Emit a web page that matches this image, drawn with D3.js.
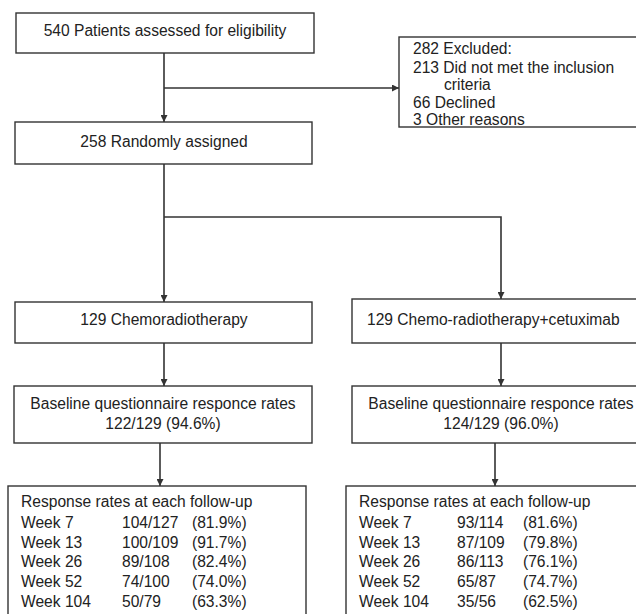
<!DOCTYPE html>
<html>
<head>
<meta charset="utf-8">
<script src="https://cdn.jsdelivr.net/npm/d3@7"></script>
<style>
  body { margin: 0; background: #fff; overflow: hidden; }
  text { font-family: "Liberation Sans", Arial, sans-serif; font-size: 15.6px; fill: #222; }
</style>
</head>
<body>
<svg id="chart" width="636" height="614"></svg>
<script>
// flow numbers
var assessed = "540 Patients assessed for eligibility";
var randomised = "258 Randomly assigned";
var excluded = ["282 Excluded:", "213 Did not met the inclusion", "criteria", "66 Declined", "3 Other reasons"];
var arms = ["129 Chemoradiotherapy", "129 Chemo-radiotherapy+cetuximab"];
var baseline = [["Baseline questionnaire responce rates", "122/129 (94.6%)"],
                ["Baseline questionnaire responce rates", "124/129 (96.0%)"]];
var weeks = ["Week 7", "Week 13", "Week 26", "Week 52", "Week 104"];
var armAcounts = ["104/127", "100/109", "89/108", "74/100", "50/79"];
var armApct = ["(81.9%)", "(91.7%)", "(82.4%)", "(74.0%)", "(63.3%)"];
var armBcounts = ["93/114", "87/109", "86/113", "65/87", "35/56"];
var armBpct = ["(81.6%)", "(79.8%)", "(76.1%)", "(74.7%)", "(62.5%)"];

var svg = d3.select("#chart");
var ink = "#333";

svg.append("defs").append("marker")
    .attr("id", "arr")
    .attr("viewBox", "0 0 10 10")
    .attr("refX", 10).attr("refY", 5)
    .attr("markerWidth", 7).attr("markerHeight", 7)
    .attr("markerUnits", "userSpaceOnUse")
    .attr("orient", "auto")
  .append("path")
    .attr("d", "M0,0L10,5L0,10z")
    .attr("fill", ink);

function box(x, y, w, h) {
    svg.append("rect")
        .attr("x", x).attr("y", y).attr("width", w).attr("height", h)
        .attr("fill", "#fff").attr("stroke", ink).attr("stroke-width", 1.4);
}
function label(x, y, t, anchor) {
    svg.append("text").attr("x", x).attr("y", y)
        .attr("text-anchor", anchor || "middle").text(t);
}
function link(pts, arrow) {
    svg.append("path")
        .attr("d", d3.line()(pts))
        .attr("fill", "none").attr("stroke", ink).attr("stroke-width", 1.6)
        .attr("marker-end", arrow ? "url(#arr)" : null);
}

// connectors first, boxes on top
link([[164, 53], [164, 122]], true);
link([[164, 88], [399, 88]], true);
link([[164, 164], [164, 302]], true);
link([[164, 217], [501, 217], [501, 299]], true);
link([[164, 343], [164, 386]], true);
link([[501, 343], [501, 386]], true);
link([[160, 443], [160, 486]], true);
link([[495, 443], [495, 486]], true);

box(16, 13, 298, 40);
label(165, 36, assessed);

box(15, 122, 297, 42);
label(164, 147, randomised);

box(399, 37, 260, 90);
var exY = [54, 73, 90, 108, 125];
excluded.forEach(function(t, i) {
    label(i === 2 ? 444 : 413, exY[i], t, "start");
});

box(15, 302, 297, 41);
label(164, 325, arms[0]);
box(352, 299, 300, 44);
label(367, 325, arms[1], "start");

box(14, 386, 298, 57);
label(163, 409, baseline[0][0]);
label(163, 429, baseline[0][1]);
box(352, 386, 300, 57);
label(501, 409, baseline[1][0]);
label(501, 429, baseline[1][1]);

function followUp(x0, cols, counts, pcts) {
    box(x0, 486, 298, 150);
    label(x0 + 13, 507, "Response rates at each follow-up", "start");
    weeks.forEach(function(w, i) {
        var y = 528 + i * 19.7;
        label(x0 + 13, y, w, "start");
        label(cols[0], y, counts[i], "start");
        label(cols[1], y, pcts[i], "start");
    });
}
followUp(8, [122, 192], armAcounts, armApct);
followUp(346, [457, 523], armBcounts, armBpct);
</script>
</body>
</html>
